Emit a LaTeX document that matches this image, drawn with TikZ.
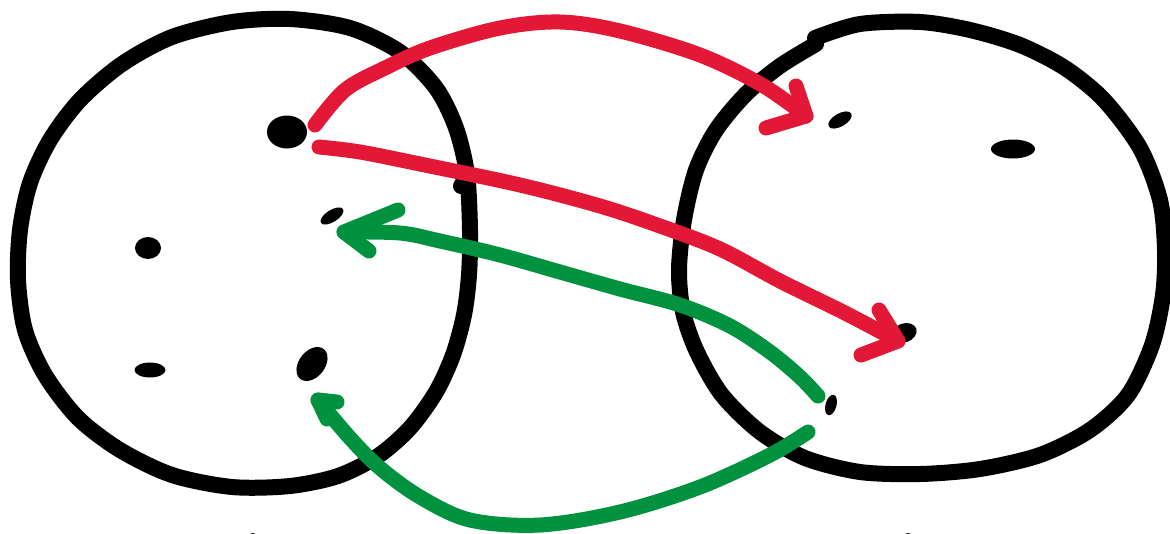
\documentclass[tikz,border=0pt]{standalone}
\usetikzlibrary{shapes.geometric}
\definecolor{inkred}{RGB}{227,24,55}
\definecolor{inkgreen}{RGB}{0,146,63}
\tikzset{
  setline/.style={draw=black, line width=16pt, line cap=round, line join=round},
  redpen/.style={draw=inkred, line width=15pt, line cap=round, line join=round},
  greenpen/.style={draw=inkgreen, line width=15pt, line cap=round, line join=round},
  blob/.style={ellipse, fill=black, inner sep=0pt, draw=none}
}
\begin{document}
\begin{tikzpicture}[x=1pt,y=-1pt]
\useasboundingbox (0,0) rectangle (1170,533);
\clip (0,0) rectangle (1170,533);
% left set
\draw[setline] plot[smooth cycle, tension=0.5] coordinates {
 (290,19) (350,28) (400,52) (436,88) (456,128) (467,174) (470,230) (469,275)
 (464,315) (453,355) (436,392) (410,428) (378,456) (338,476) (290,486) (232,487)
 (172,475) (120,450) (78,418) (45,375) (25,330) (18,280) (20,230) (30,183)
 (50,140) (80,100) (122,64) (172,37) (232,22)};
\draw[setline] (461,186) -- (467,176);
% right set
\draw[setline] plot[smooth, tension=0.5] coordinates {
 (816,44) (780,66) (746,94) (716,130) (696,170) (684,220) (679,270) (683,312)
 (697,352) (722,395) (760,432) (805,458) (860,472) (920,474) (980,469) (1040,455)
 (1090,430) (1128,395) (1152,345) (1163,295) (1165,250) (1160,200) (1140,148)
 (1104,100) (1065,68) (1020,45) (970,30) (920,22) (860,24) (815,38)};
% elements
\node[blob, minimum width=40pt, minimum height=33pt] (a1) at (287,132) {};
\node[blob, minimum width=26pt, minimum height=12pt, rotate=32] (a2) at (332,216) {};
\node[blob, minimum width=26pt, minimum height=22pt] (a3) at (148,248) {};
\node[blob, minimum width=31pt, minimum height=15pt] (a4) at (150,370) {};
\node[blob, minimum width=38pt, minimum height=26pt, rotate=52] (a5) at (312,364) {};
\node[blob, minimum width=26pt, minimum height=13pt, rotate=30] (b1) at (840,120) {};
\node[blob, minimum width=44pt, minimum height=19pt] (b2) at (1013,149) {};
\node[blob, minimum width=26pt, minimum height=19pt, rotate=20] (b3) at (904,333) {};
\node[blob, minimum width=11pt, minimum height=21pt, rotate=-15] (b4) at (831,405) {};
\node[blob, minimum width=10pt, minimum height=8pt] (c1) at (253,537) {};
\node[blob, minimum width=10pt, minimum height=8pt] (c2) at (908,537) {};
% arrow end points
\coordinate (r1s) at (315,125);
\coordinate (r1t) at (806,116);
\coordinate (r2s) at (319,147);
\coordinate (r2t) at (898,341);
\coordinate (g1s) at (818,396);
\coordinate (g1t) at (344,232);
\coordinate (g2s) at (808,432);
\coordinate (g2t) at (318,400);
% red arrows
\draw[redpen] plot[smooth, tension=0.55] coordinates {
 (r1s) (345,90) (385,68) (430,48) (500,28) (560,22) (620,31) (700,55) (762,85) (r1t)};
\draw[redpen] (796,86) -- (r1t) -- (766,128);
\draw[redpen] plot[smooth, tension=0.55] coordinates {
 (r2s) (360,152) (420,164) (520,185) (600,206) (660,226) (720,249) (780,281) (845,313) (r2t)};
\draw[redpen] (879,310) -- (r2t) -- (861,355);
% green arrows
\draw[greenpen] plot[smooth, tension=0.55] coordinates {
 (g1s) (800,377) (770,352) (730,326) (680,305) (620,289) (560,272) (500,255) (440,241) (400,233) (g1t)};
\draw[greenpen] (398,210) -- (g1t) -- (369,251);
\draw[greenpen] plot[smooth, tension=0.55] coordinates {
 (g2s) (770,455) (700,487) (620,512) (540,525) (470,520) (420,497) (380,468) (350,438) (g2t)};
\draw[greenpen] (337,402) -- (g2t) -- (327,419);
\end{tikzpicture}
\end{document}
